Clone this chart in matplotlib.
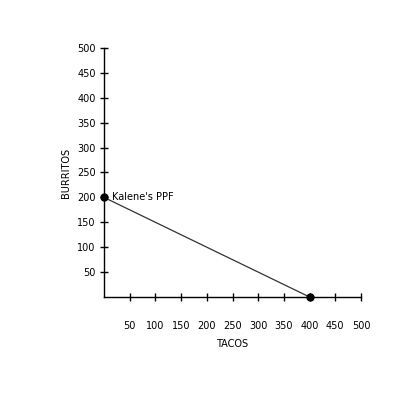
import matplotlib
matplotlib.use("Agg")
import matplotlib.pyplot as plt

tacos = [0, 400]
burritos = [200, 0]
ticks = [50, 100, 150, 200, 250, 300, 350, 400, 450, 500]

fig = plt.figure(figsize=(4, 4), dpi=100)
ax = fig.add_axes([0.26, 0.2575, 0.6425, 0.6225])
ax.plot(tacos, burritos, color="#333333", lw=0.9, marker="o", ms=5, mfc="black", mec="black", clip_on=False, zorder=5)
ax.set_xlim(0, 500)
ax.set_ylim(0, 500)
for s in ["top", "right"]:
    ax.spines[s].set_visible(False)
for s in ["left", "bottom"]:
    ax.spines[s].set_linewidth(1.0)
ax.set_xticks(ticks)
ax.set_yticks([t for t in ticks])
ax.tick_params(direction="inout", length=6, width=1, labelsize=7, colors="black")
ax.tick_params(axis="x", pad=14)
ax.tick_params(axis="y", pad=3)
ax.set_xlabel("TACOS", fontsize=7, labelpad=6)
ax.set_ylabel("BURRITOS", fontsize=7, labelpad=4)
ax.text(15, 200, "Kalene's PPF", fontsize=7, va="center", ha="left")
fig.savefig("out.png", dpi=100)
